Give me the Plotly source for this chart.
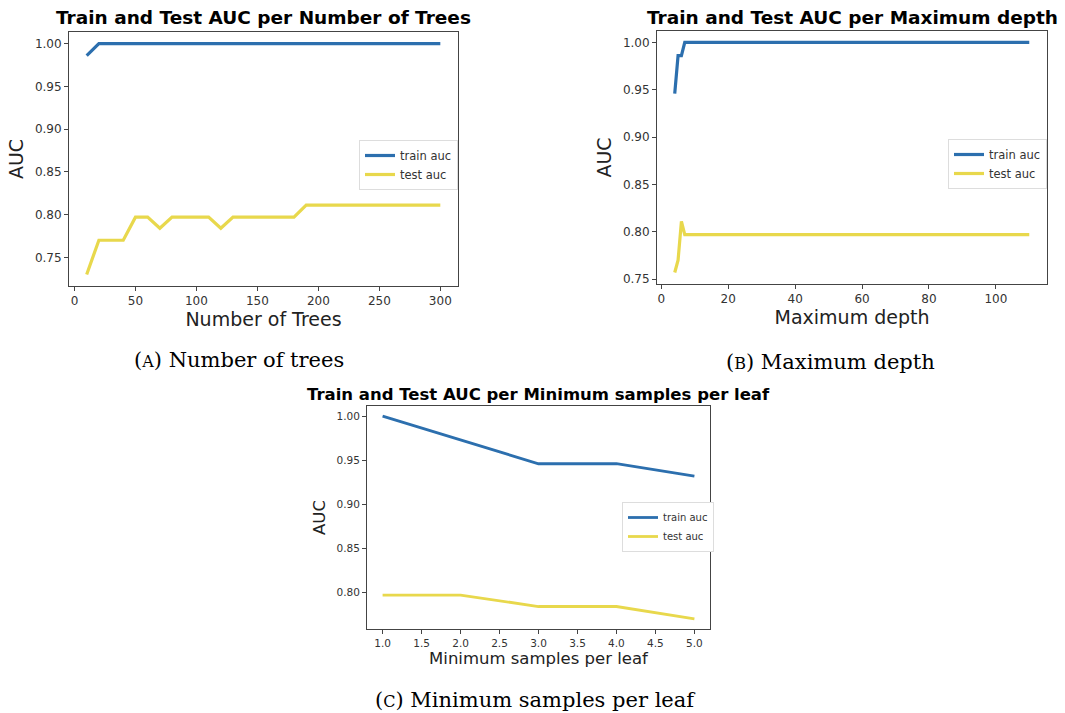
import plotly.graph_objects as go

# ---------------- data ----------------
trees_x = [10, 20, 30, 40, 50, 60, 70, 80, 90, 100, 110, 120, 130, 140, 150,
           160, 170, 180, 190, 200, 210, 220, 230, 240, 250, 260, 270, 280, 290, 300]
trees_train = [0.986] + [1.0] * 29
trees_test = [0.730, 0.770, 0.770, 0.770, 0.797, 0.797, 0.784, 0.797, 0.797, 0.797,
              0.797, 0.784, 0.797, 0.797, 0.797, 0.797, 0.797, 0.797, 0.811, 0.811,
              0.811, 0.811, 0.811, 0.811, 0.811, 0.811, 0.811, 0.811, 0.811, 0.811]

depth_x = [4, 5, 6, 7, 8, 9, 10, 20, 30, 40, 50, 60, 70, 80, 90, 100, 110]
depth_train = [0.946, 0.986, 0.986, 1.0, 1.0, 1.0, 1.0, 1.0, 1.0, 1.0, 1.0, 1.0, 1.0, 1.0, 1.0, 1.0, 1.0]
depth_test = [0.757, 0.770, 0.811, 0.797, 0.797, 0.797, 0.797, 0.797, 0.797, 0.797,
              0.797, 0.797, 0.797, 0.797, 0.797, 0.797, 0.797]

leaf_x = [1, 2, 3, 4, 5]
leaf_train = [1.0, 0.973, 0.946, 0.946, 0.932]
leaf_test = [0.797, 0.797, 0.784, 0.784, 0.770]

titles = ["Train and Test AUC per Number of Trees",
          "Train and Test AUC per Maximum depth",
          "Train and Test AUC per Minimum samples per leaf"]
xlabels = ["Number of Trees", "Maximum depth", "Minimum samples per leaf"]
captions = [("A", "Number of trees"), ("B", "Maximum depth"), ("C", "Minimum samples per leaf")]
series_names = ["train auc", "test auc"]

BLUE = "#2c6fae"
YELLOW = "#e8d84c"
W, H = 1065, 713

fig = go.Figure()

# panel geometry in pixels: (left, right, top, bottom)
panels = [
    dict(px=(69, 458, 32, 286), xr=(-4.5, 314.5), yr=(0.7165, 1.0135),
         xt=[0, 50, 100, 150, 200, 250, 300], xtt=None,
         yt=[0.75, 0.80, 0.85, 0.90, 0.95, 1.00],
         tick=12, lab=19, tit=18.5, lw=3.2, legf=11.5,
         leg=(359, 140), cap=(239, 360), tity=17),
    dict(px=(657, 1047, 31, 284), xr=(-1.3, 115.3), yr=(0.7449, 1.0121),
         xt=[0, 20, 40, 60, 80, 100], xtt=None,
         yt=[0.75, 0.80, 0.85, 0.90, 0.95, 1.00],
         tick=12, lab=19, tit=18.5, lw=3.2, legf=11.5,
         leg=(948, 139), cap=(830, 362), tity=17),
    dict(px=(367, 710, 406, 629), xr=(0.8, 5.2), yr=(0.7585, 1.0115),
         xt=[1.0, 1.5, 2.0, 2.5, 3.0, 3.5, 4.0, 4.5, 5.0],
         xtt=["1.0", "1.5", "2.0", "2.5", "3.0", "3.5", "4.0", "4.5", "5.0"],
         yt=[0.80, 0.85, 0.90, 0.95, 1.00],
         tick=10.5, lab=16.5, tit=16.5, lw=2.8, legf=10,
         leg=(622, 502), cap=(535, 700), tity=395),
]
data = [(trees_x, trees_train, trees_test),
        (depth_x, depth_train, depth_test),
        (leaf_x, leaf_train, leaf_test)]

annotations = []
for i, (p, (xs, tr, te)) in enumerate(zip(panels, data)):
    n = "" if i == 0 else str(i + 1)
    l, r, t, b = p["px"]
    legname = "legend" + n
    for name, ys, col in [(series_names[0], tr, BLUE), (series_names[1], te, YELLOW)]:
        fig.add_trace(go.Scatter(x=xs, y=ys, mode="lines", name=name,
                                 line=dict(color=col, width=p["lw"]),
                                 xaxis="x" + n, yaxis="y" + n, legend=legname))
    axcommon = dict(showgrid=False, zeroline=False, showline=True, mirror=True,
                    linecolor="#444", linewidth=1, ticks="outside", ticklen=4,
                    tickcolor="#444", automargin=False,
                    tickfont=dict(family="DejaVu Sans", size=p["tick"], color="#333"))
    fig.layout["xaxis" + n] = dict(domain=[l / W, r / W], anchor="y" + n, range=list(p["xr"]),
                                   tickvals=p["xt"], ticktext=p["xtt"],
                                   title=dict(text=xlabels[i], standoff=2,
                                              font=dict(family="DejaVu Sans", size=p["lab"], color="#222")),
                                   **axcommon)
    fig.layout["yaxis" + n] = dict(domain=[1 - b / H, 1 - t / H], anchor="x" + n, range=list(p["yr"]),
                                   tickvals=p["yt"], tickformat=".2f",
                                   title=dict(text="AUC", standoff=6,
                                              font=dict(family="DejaVu Sans", size=p["lab"], color="#222")),
                                   **axcommon)
    lx, ly = p["leg"]
    fig.layout[legname] = dict(x=lx / W, y=1 - ly / H, xanchor="left", yanchor="top",
                               bgcolor="white", bordercolor="#dddddd", borderwidth=1,
                               font=dict(family="DejaVu Sans", size=p["legf"], color="#333"),
                               tracegroupgap=0, itemwidth=30)
    annotations.append(dict(text="<b>" + titles[i] + "</b>", x=(l + r) / 2 / W, y=1 - p["tity"] / H,
                            xref="paper", yref="paper", showarrow=False, xanchor="center", yanchor="middle",
                            font=dict(family="DejaVu Sans", size=p["tit"], color="black")))
    cx, cy = p["cap"]
    letter, text = captions[i]
    annotations.append(dict(text="(<span style='font-size:16px'>" + letter + "</span>) " + text,
                            x=cx / W, y=1 - cy / H, xref="paper", yref="paper", showarrow=False,
                            xanchor="center", yanchor="middle",
                            font=dict(family="DejaVu Serif", size=21, color="black")))

fig.update_layout(width=W, height=H, margin=dict(l=0, r=0, t=0, b=0, autoexpand=False),
                  paper_bgcolor="white", plot_bgcolor="white",
                  annotations=annotations, showlegend=True)

fig.write_html("out.html", config={"displayModeBar": False},
               post_script="document.body.style.margin='0px';document.body.style.overflow='hidden';")
